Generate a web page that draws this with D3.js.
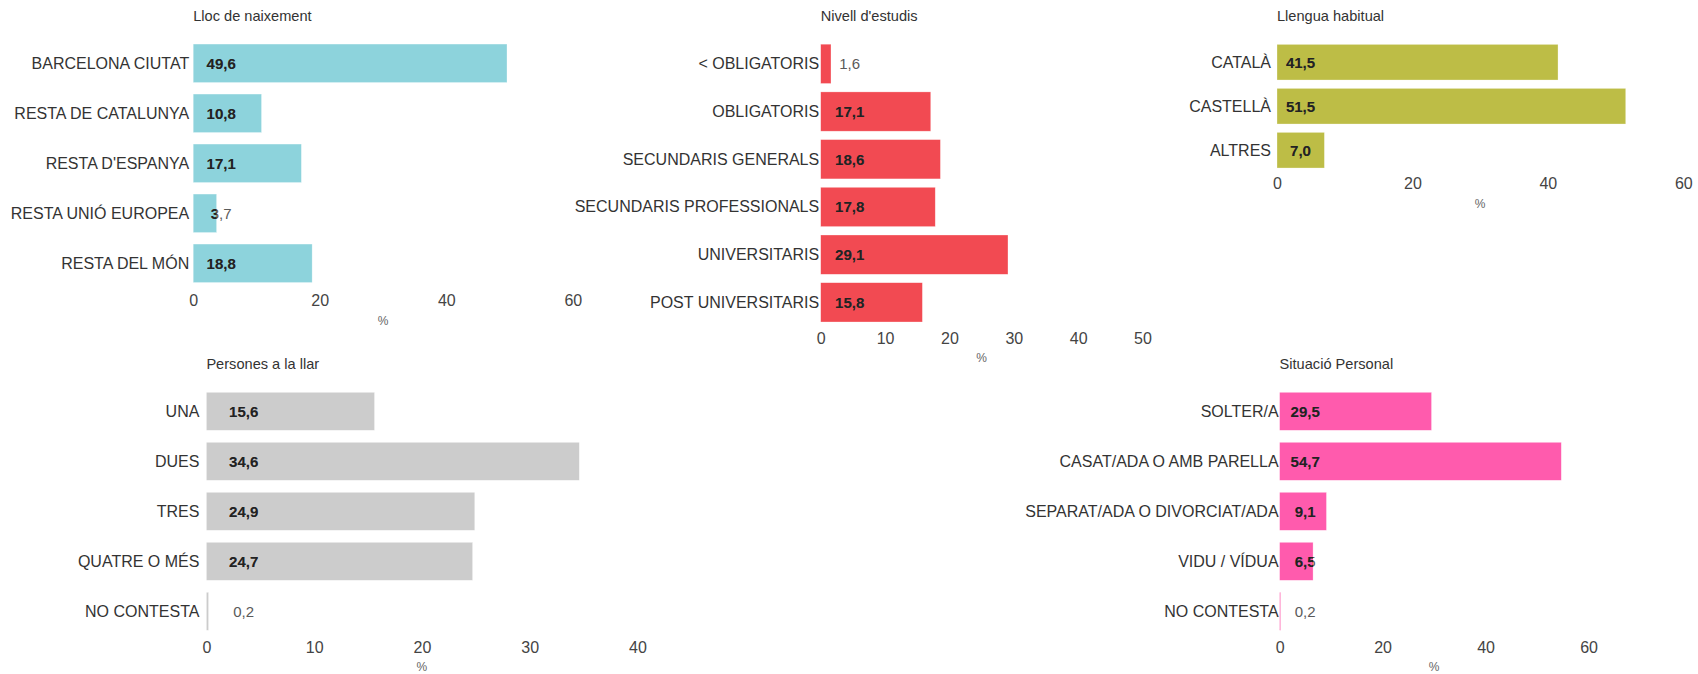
<!DOCTYPE html>
<html>
<head>
<meta charset="utf-8">
<script src="https://cdn.jsdelivr.net/npm/d3@7"></script>
<style>
  html, body { margin: 0; padding: 0; background: #fff; }
  svg { display: block; font-family: "Liberation Sans", Arial, sans-serif; }
</style>
</head>
<body>
<svg id="chart" width="1698" height="674"></svg>
<script>
// ---- data ----
const llocTitle = "Lloc de naixement";
const llocCats = ["BARCELONA CIUTAT", "RESTA DE CATALUNYA", "RESTA D'ESPANYA", "RESTA UNIÓ EUROPEA", "RESTA DEL MÓN"];
const llocVals = [49.6, 10.8, 17.1, 3.7, 18.8];
const llocTicks = [0, 20, 40, 60];

const estudisTitle = "Nivell d'estudis";
const estudisCats = ["< OBLIGATORIS", "OBLIGATORIS", "SECUNDARIS GENERALS", "SECUNDARIS PROFESSIONALS", "UNIVERSITARIS", "POST UNIVERSITARIS"];
const estudisVals = [1.6, 17.1, 18.6, 17.8, 29.1, 15.8];
const estudisTicks = [0, 10, 20, 30, 40, 50];

const llenguaTitle = "Llengua habitual";
const llenguaCats = ["CATALÀ", "CASTELLÀ", "ALTRES"];
const llenguaVals = [41.5, 51.5, 7.0];
const llenguaTicks = [0, 20, 40, 60];

const llarTitle = "Persones a la llar";
const llarCats = ["UNA", "DUES", "TRES", "QUATRE O MÉS", "NO CONTESTA"];
const llarVals = [15.6, 34.6, 24.9, 24.7, 0.2];
const llarTicks = [0, 10, 20, 30, 40];

const situacioTitle = "Situació Personal";
const situacioCats = ["SOLTER/A", "CASAT/ADA O AMB PARELLA", "SEPARAT/ADA O DIVORCIAT/ADA", "VIDU / VÍDUA", "NO CONTESTA"];
const situacioVals = [29.5, 54.7, 9.1, 6.5, 0.2];
const situacioTicks = [0, 20, 40, 60];

// ---- layout / style ----
const panels = [
  { title: llocTitle, cats: llocCats, vals: llocVals, ticks: llocTicks, color: "#8DD3DC",
    x0: 193.2, x1: 572.8, y0: 38.3, y1: 288.3, pad: 0.23, titleY: 16, tickY: 300, pctY: 321, catGap: 4, valOff: 28 },
  { title: estudisTitle, cats: estudisCats, vals: estudisVals, ticks: estudisTicks, color: "#F24A52",
    x0: 820.7, x1: 1142.5, y0: 40.0, y1: 326.2, pad: 0.176, titleY: 16, tickY: 338, pctY: 358, catGap: 1.5, valOff: 29 },
  { title: llenguaTitle, cats: llenguaCats, vals: llenguaVals, ticks: llenguaTicks, color: "#BDBD46",
    x0: 1277, x1: 1683.3, y0: 40.2, y1: 172.2, pad: 0.19, titleY: 16, tickY: 183.3, pctY: 204, catGap: 6, valOff: 23.5 },
  { title: llarTitle, cats: llarCats, vals: llarVals, ticks: llarTicks, color: "#CCCCCC",
    x0: 206.4, x1: 637.5, y0: 386.3, y1: 636.3, pad: 0.24, titleY: 364, tickY: 647.3, pctY: 666.5, catGap: 7, valOff: 37.3 },
  { title: situacioTitle, cats: situacioCats, vals: situacioVals, ticks: situacioTicks, color: "#FF5BAD",
    x0: 1279.6, x1: 1588.6, y0: 386.3, y1: 636.3, pad: 0.24, titleY: 364, tickY: 647.3, pctY: 666.5, catGap: 1, valOff: 25.6 }
];

const fmt = v => d3.format(".1f")(v).replace(".", ",");
const svg = d3.select("#chart");

panels.forEach((p, i) => {
  const g = svg.append("g");
  const x = d3.scaleLinear().domain([0, p.ticks[p.ticks.length - 1]]).range([p.x0, p.x1]);
  const y = d3.scaleBand().domain(p.cats).range([p.y0, p.y1]).paddingInner(p.pad).paddingOuter(p.pad / 2);
  const data = p.cats.map((c, k) => ({ c, v: p.vals[k] }));

  // title
  g.append("text").attr("x", p.x0).attr("y", p.titleY)
    .attr("dominant-baseline", "central")
    .attr("font-size", 14.6).attr("fill", "#333").text(p.title);

  // bars
  g.selectAll("rect.bar").data(data).join("rect").attr("class", "bar")
    .attr("x", x(0)).attr("y", d => y(d.c))
    .attr("width", d => x(d.v) - x(0)).attr("height", y.bandwidth())
    .attr("fill", p.color).attr("stroke", "#fff").attr("stroke-opacity", 0.5).attr("stroke-width", 0.6);

  // clip path from bars
  const clipId = "clip" + i;
  const clip = svg.append("clipPath").attr("id", clipId);
  clip.selectAll("rect").data(data).join("rect")
    .attr("x", x(0)).attr("y", d => y(d.c))
    .attr("width", d => x(d.v) - x(0)).attr("height", y.bandwidth());

  // category labels
  g.selectAll("text.cat").data(data).join("text").attr("class", "cat")
    .attr("x", x(0) - p.catGap).attr("y", d => y(d.c) + y.bandwidth() / 2)
    .attr("text-anchor", "end").attr("dominant-baseline", "central")
    .attr("font-size", 16).attr("fill", "#333").text(d => d.c);

  // value labels (light outside bar)
  g.selectAll("text.val").data(data).join("text").attr("class", "val")
    .attr("x", x(0) + p.valOff).attr("y", d => y(d.c) + y.bandwidth() / 2)
    .attr("text-anchor", "middle").attr("dominant-baseline", "central")
    .attr("font-size", 15).attr("fill", "#5a5a5a").text(d => fmt(d.v));

  // value labels (dark, clipped to bars)
  g.append("g").attr("clip-path", `url(#${clipId})`)
    .selectAll("text").data(data).join("text")
    .attr("x", x(0) + p.valOff).attr("y", d => y(d.c) + y.bandwidth() / 2)
    .attr("text-anchor", "middle").attr("dominant-baseline", "central")
    .attr("font-size", 15).attr("font-weight", "bold").attr("fill", "#222").text(d => fmt(d.v));

  // x axis
  const ax = g.append("g").attr("transform", `translate(0,${p.tickY})`)
    .call(d3.axisBottom(x).tickValues(p.ticks).tickSize(0).tickPadding(0).tickFormat(d3.format("d")));
  ax.select(".domain").remove();
  ax.selectAll("text").attr("font-size", 16).attr("fill", "#444")
    .attr("font-family", "'Liberation Sans', Arial, sans-serif")
    .attr("dy", null).attr("y", 0).attr("dominant-baseline", "central");

  // axis title
  g.append("text").attr("x", (p.x0 + p.x1) / 2).attr("y", p.pctY)
    .attr("text-anchor", "middle").attr("dominant-baseline", "central")
    .attr("font-size", 12).attr("fill", "#666").text("%");
});
</script>
</body>
</html>
